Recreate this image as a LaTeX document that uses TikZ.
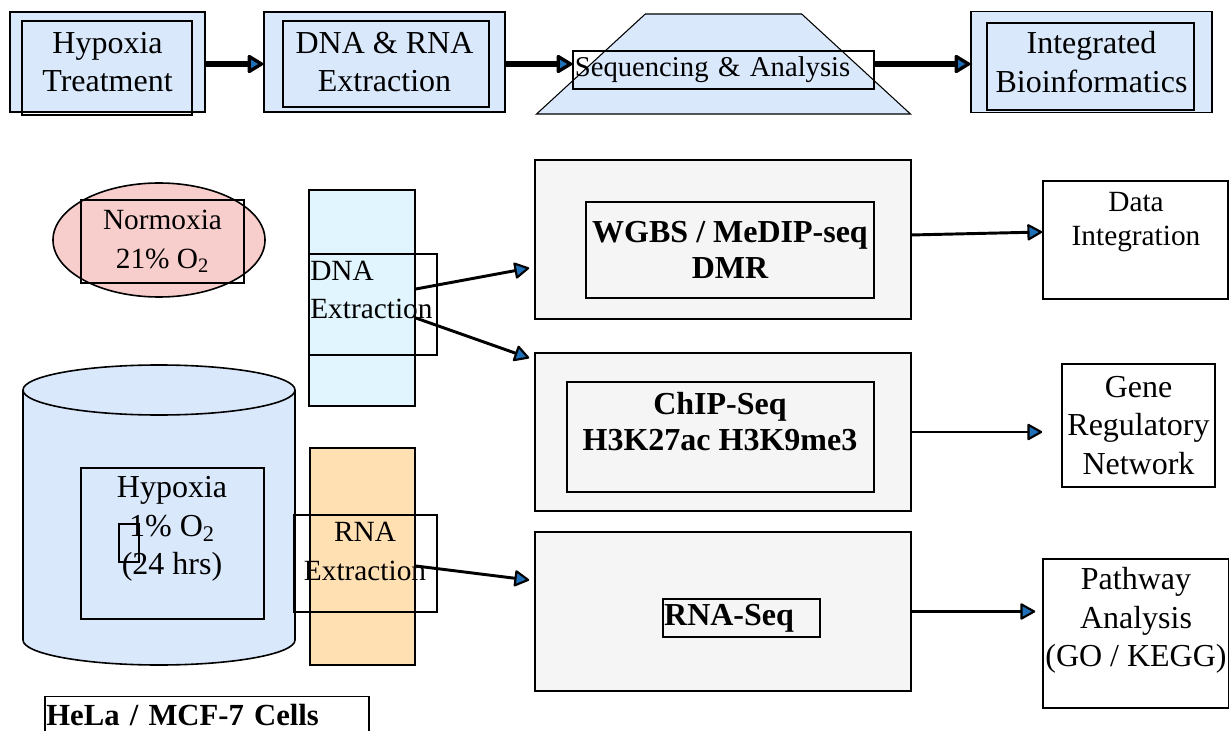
\documentclass[tikz,border=0pt]{standalone}
\usepackage{fontspec}
\setmainfont{Liberation Serif}
\usetikzlibrary{arrows.meta,shapes.geometric}

\definecolor{boxblue}{HTML}{DAE8FC}
\definecolor{rosefill}{HTML}{F8CECC}
\definecolor{dnafill}{HTML}{E1F5FE}
\definecolor{rnafill}{HTML}{FFE0B2}
\definecolor{greyfill}{HTML}{F5F5F5}
\definecolor{tipblue}{HTML}{1F70B8}

\begin{document}
\begin{tikzpicture}[
  x=0.75pt, y=-0.75pt,
  every node/.style={line width=1.2pt, inner sep=0pt, align=center,
    font=\fontsize{22}{29}\selectfont},
  frame/.style={draw, rectangle},
  big/.style={font=\fontsize{24}{29}\selectfont},
  bold/.style={font=\fontsize{24}{27}\selectfont\bfseries},
  flow/.style={line width=4pt, -{Triangle[round,length=13pt,width=15pt,line width=2.5pt,fill=tipblue]}},
  link/.style={line width=2.2pt, -{Triangle[round,length=12pt,width=13pt,line width=1.6pt,fill=tipblue]}}
]
  \useasboundingbox (0,0) rectangle (1229,731);

  % top row
  \node[frame, big, fill=boxblue, minimum width=146.25pt, minimum height=75pt] (treat) at (107.5,62) {Hypoxia\\Treatment};
  \node[frame, minimum width=127.5pt, minimum height=70.5pt] (treatIn) at (107,68) {};
  \node[frame, big, fill=boxblue, minimum width=180.75pt, minimum height=75pt] (extr) at (384.5,62) {DNA \& RNA\\Extraction};
  \node[frame, minimum width=154.5pt, minimum height=64.5pt] (extrIn) at (386,64) {};
  \node[trapezium, draw, line width=0.8pt, fill=boxblue, inner sep=2pt, trapezium left angle=53.5, trapezium right angle=53.5,
        trapezium stretches=true, minimum width=281.25pt, minimum height=75pt] (seq) at (723.5,64) {\phantom{x}};
  \node[frame, font=\fontsize{21.5}{29}\selectfont, minimum width=225.75pt, minimum height=28.5pt, text width=223pt, align=left] (seqIn) at (723.5,70) {Sequencing \& Analysis};
  \node[frame, big, fill=boxblue, minimum width=180.75pt, minimum height=75.75pt] (bioinf) at (1091.5,62) {Integrated\\Bioinformatics};
  \node[frame, minimum width=155.25pt, minimum height=65.25pt] (bioinfIn) at (1090.5,66.5) {};

  \draw[flow] (treat.east |- 0,64) -- (extr.west |- 0,64);
  \draw[flow] (extr.east |- 0,64) -- (seqIn.west |- 0,64);
  \draw[flow] (seqIn.east |- 0,64) -- (bioinf.west |- 0,64);

  % samples
  \node[ellipse, draw, fill=rosefill, minimum width=159pt, minimum height=85.5pt] (normo) at (159,240) {};
  \node[frame, minimum width=122.25pt, minimum height=62.25pt] (normoIn) at (162.5,241.5) {Normoxia\\21\% O\textsubscript{2}};

  \path[draw, fill=boxblue, line width=1.2pt] (23,390) -- (23,640)
    arc[start angle=180, end angle=360, x radius=102pt, y radius=18.75pt] -- (295,390)
    arc[start angle=0, end angle=180, x radius=102pt, y radius=18.75pt] -- cycle;
  \draw[line width=1.2pt] (23,390) arc[start angle=180, end angle=360, x radius=102pt, y radius=18.75pt];
  \node[frame, minimum width=137.25pt, minimum height=113.25pt] (hypBox) at (172.5,543.5) {};
  \node[big] (hypTxt) at (172,529) {Hypoxia\\1\% O\textsubscript{2}\\(24 hrs)};
  \node[frame, minimum width=15pt, minimum height=28.5pt] (tinyBox) at (129,543) {};

  \node[frame, font=\fontsize{23}{27}\selectfont\bfseries, minimum width=243pt, minimum height=28.5pt,
        text width=241pt, align=left] (cells) at (207,715.5) {HeLa / MCF-7 Cells};

  % extraction
  \node[frame, fill=dnafill, minimum width=79.5pt, minimum height=162pt] (dnaBar) at (362,298) {};
  \node[frame, minimum width=96pt, minimum height=75.75pt] (dnaBox) at (373,304.5) {};
  \node[anchor=west, align=left] (dnaTxt) at (309.5,290) {DNA\\Extraction};

  \node[frame, fill=rnafill, minimum width=78.75pt, minimum height=162.75pt] (rnaBar) at (362.5,556.5) {};
  \node[frame, minimum width=107.25pt, minimum height=72.75pt] (rnaBox) at (365.5,563.5) {};
  \node (rnaTxt) at (365,551.5) {RNA\\Extraction};

  % assays
  \node[frame, fill=greyfill, minimum width=282pt, minimum height=119.25pt] (wgbs) at (723,239.5) {};
  \node[frame, bold, minimum width=216pt, minimum height=72pt] (wgbsIn) at (730,250) {WGBS / MeDIP-seq\\DMR};
  \node[frame, fill=greyfill, minimum width=282pt, minimum height=118.5pt] (chip) at (723,432) {};
  \node[frame, minimum width=230.25pt, minimum height=82.5pt] (chipIn) at (720.5,437) {};
  \node[bold] (chipTxt) at (720,422) {ChIP-Seq\\H3K27ac H3K9me3};
  \node[frame, fill=greyfill, minimum width=282pt, minimum height=119.25pt] (rnaseq) at (723,611.5) {};
  \node[frame, bold, minimum width=117.75pt, minimum height=28.5pt, text width=116pt, align=left] (rnaseqIn) at (741.5,618) {RNA-Seq};

  % outputs
  \node[frame, minimum width=138.75pt, minimum height=88.5pt] (data) at (1135.5,240) {};
  \node[font=\fontsize{22}{25}\selectfont] (dataTxt) at (1136,222) {Data\\Integration};
  \node[frame, big, minimum width=114.75pt, minimum height=92.25pt] (gene) at (1138.5,425.5) {Gene\\Regulatory\\Network};
  \node[frame, minimum width=139.5pt, minimum height=111.75pt] (pathw) at (1136,633.5) {};
  \node[big] (pathTxt) at (1136,620.5) {Pathway\\Analysis\\(GO / KEGG)};

  \draw[link] ([yshift=6.75pt]dnaBar.east) -- ([xshift=-3.75pt,yshift=-21.4pt]wgbs.west);
  \draw[link] ([yshift=-15pt]dnaBar.east) -- ([xshift=-3.75pt,yshift=55.5pt]chip.west);
  \draw[link] ([yshift=-7.1pt]rnaBar.east) -- ([xshift=-3.75pt,yshift=23.6pt]rnaseq.west);

  \draw[link] ([yshift=3.4pt]wgbs.east) -- ([yshift=6pt]data.west);
  \draw[link] (chip.east) -- ([xshift=-14.25pt]chip.east -| gene.west);
  \draw[link] (rnaseq.east) -- ([xshift=-5.25pt]rnaseq.east -| pathw.west);
\end{tikzpicture}
\end{document}
